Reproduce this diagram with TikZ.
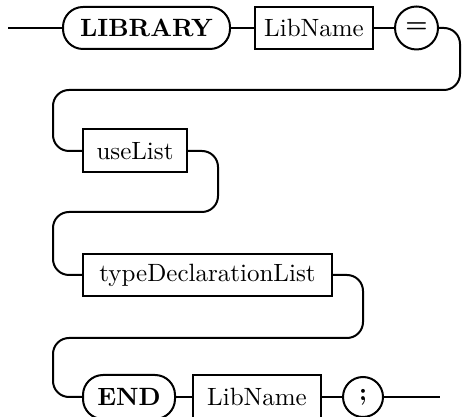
\documentclass[tikz,border=0pt]{standalone}
\usepackage{tikz}
\usetikzlibrary{calc}
\tikzset{
  line/.style={draw=black, line width=0.8pt},
  track/.style={line, rounded corners=6.4pt},
  ntbox/.style={line, rectangle, minimum height=16.8pt, inner sep=0pt},
  kwbox/.style={line, rectangle, rounded corners=8pt, minimum height=16.8pt,
    inner sep=0pt, font=\bfseries},
  sym/.style={line, circle, minimum size=17pt, inner sep=0pt, font=\bfseries}
}
\begin{document}
\begin{tikzpicture}[x=0.4pt, y=-0.4pt]
  \clip (0,0) rectangle (465,417);

  % first row
  \coordinate (in) at (8,28);
  \node[kwbox, minimum width=66.8pt] (lib) at (146.5,28) {LIBRARY};
  \node[ntbox, minimum width=47.2pt] (libname) at (314,28) {LibName};
  \node[sym, minimum size=17.2pt] (eq) at (416.5,28) {=};

  % middle rows
  \node[ntbox, minimum width=41.6pt, minimum height=17.2pt] (uselist) at (135,151) {useList};
  \node[ntbox, minimum width=99.6pt] (typedecl) at (207.5,275) {typeDeclarationList};

  % last row
  \node[kwbox, minimum width=36.8pt, minimum height=17.6pt] (endkw) at (129,397) {END};
  \node[ntbox, minimum width=51.2pt, minimum height=17.6pt] (endname) at (257,397) {LibName};
  \node[sym, minimum size=16pt] (semi) at (363,397) {;};
  \coordinate (out) at (440,397);

  % connectors
  \draw[line] (in) -- (lib);
  \draw[line] (lib) -- (libname);
  \draw[line] (libname) -- (eq);
  \draw[track] (eq.east) -- (460,28) -- (460,90) -- (53,90) -- (53,151) -- (uselist.west);
  \draw[track] (uselist.east) -- (218,151) -- (218,212) -- (53,212) -- (53,275) -- (typedecl.west);
  \draw[track] (typedecl.east) -- (363,275) -- (363,338) -- (53,338) -- (53,397) -- (endkw.west);
  \draw[line] (endkw) -- (endname);
  \draw[line] (endname) -- (semi);
  \draw[line] (semi) -- (out);
\end{tikzpicture}
\end{document}
